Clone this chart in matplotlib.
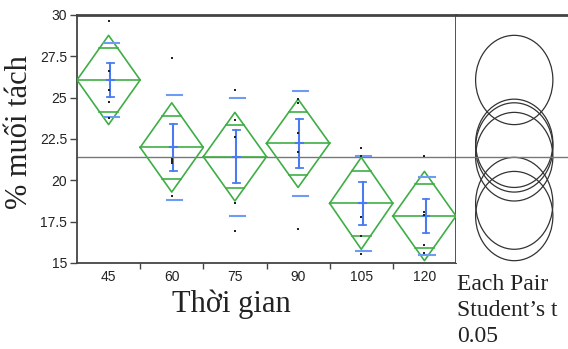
import numpy as np
import matplotlib
matplotlib.use("Agg")
import matplotlib.pyplot as plt
from matplotlib.patches import Ellipse

# ==== Data ====
groups = ['45', '60', '75', '90', '105', '120']
means = [26.07, 21.99, 21.43, 22.24, 18.61, 17.84]
ci_half = [2.70, 2.70, 2.68, 2.67, 2.78, 2.70]     # means diamond half height (95% CI)
std_dev = [2.25, 3.19, 3.57, 3.18, 2.86, 2.34]     # std dev lines
std_err = [1.01, 1.43, 1.59, 1.47, 1.29, 1.01]     # error bars
points = [
    [29.66, 26.60, 25.46, 24.74, 23.79],
    [27.42, 21.31, 21.14, 21.03, 19.05],
    [25.46, 23.65, 22.64, 18.65, 16.95],
    [24.94, 24.70, 22.88, 21.71, 17.04],
    [21.97, 21.45, 17.80, 16.63, 15.54],
    [21.47, 18.10, 17.90, 16.11, 15.62],
]
grand_mean = 21.4
y_ticks = [15, 17.5, 20, 22.5, 25, 27.5, 30]
y_tick_labels = ['15', '17.5', '20', '22.5', '25', '27.5', '30']

# ==== Styles ====
green = '#3fae46'
blue_sd = '#6f9bf5'
blue_err = '#4a7cf0'
frame = '#444444'
W, H = 568, 349

fig = plt.figure(figsize=(W / 100, H / 100), dpi=100)
bottom = (H - 263) / H
height = (263 - 15) / H
ax = fig.add_axes([77 / W, bottom, (456 - 77) / W, height])
ax2 = fig.add_axes([456 / W, bottom, (W - 456) / W, height], sharey=ax)

# ==== Main panel: means diamonds ====
for i, (m, c, sd, se, pts) in enumerate(zip(means, ci_half, std_dev, std_err, points)):
    ax.plot([i - 0.5, i, i + 0.5, i, i - 0.5], [m, m + c, m, m - c, m],
            color=green, lw=1.2, zorder=3)
    ax.plot([i - 0.5, i + 0.5], [m, m], color=green, lw=1.2, zorder=3)
    ov = c / np.sqrt(2)
    hw = 0.5 * (1 - ov / c)
    for s in (1, -1):
        ax.plot([i - hw, i + hw], [m + s * ov] * 2, color=green, lw=1.2, zorder=3)
        ax.plot([i - 0.08, i + 0.16], [m + s * sd] * 2, color=blue_sd, lw=1.5, zorder=4)
        ax.plot([i - 0.03, i + 0.08], [m + s * se] * 2, color=blue_err, lw=1.3, zorder=4)
    ax.plot([i + 0.02, i + 0.02], [m - se, m + se], color=blue_err, lw=1.5, zorder=4)
    ax.plot([i - 0.03, i + 0.08], [m, m], color=blue_err, lw=1.5, zorder=4)
    ax.scatter([i] * len(pts), pts, s=4.5, marker='s', color='#222222', lw=0, zorder=5)

ax.axhline(grand_mean, color='#777777', lw=1, zorder=1)
ax.set_xlim(-0.5, len(groups) - 0.5)
ax.set_ylim(15, 30)
ax.set_xticks(range(len(groups)))
ax.set_xticklabels(groups)
ax.set_xticks(np.arange(0.5, len(groups) - 1, 1), minor=True)
ax.set_yticks(y_ticks)
ax.set_yticklabels(y_tick_labels)
ax.tick_params(axis='x', which='major', length=0, pad=5, labelsize=10, labelcolor='#222222')
ax.tick_params(axis='x', which='minor', length=4, width=1, color=frame, direction='out')
ax.tick_params(axis='y', length=5, width=1, color=frame, pad=2, labelsize=10, labelcolor='#222222')
for lab in ax.get_xticklabels() + ax.get_yticklabels():
    lab.set_fontfamily('Liberation Sans')
for name, sp in ax.spines.items():
    sp.set_color(frame)
    sp.set_linewidth(2 if name == 'top' else 1.3)

# ==== Comparison circles panel ====
ax2.set_xlim(0, 1)
for m, c in zip(means, ci_half):
    ax2.add_patch(Ellipse((0.52, m), width=0.69, height=2 * c, fill=False,
                          ec='#333333', lw=0.9))
ax2.axhline(grand_mean, color='#777777', lw=1)
ax2.tick_params(left=False, bottom=False, labelleft=False, labelbottom=False)
for name, sp in ax2.spines.items():
    sp.set_visible(name == 'top')
ax2.spines['top'].set_color(frame)
ax2.spines['top'].set_linewidth(2)

# ==== Labels ====
serif = 'Liberation Serif'
fig.text(20 / W, 1 - 132 / H, '% muối tách', rotation=90, ha='center', va='center',
         fontsize=22, family=serif, color='#222222')
fig.text(231 / W, 1 - 312 / H, 'Thời gian', ha='center', va='baseline',
         fontsize=22, family=serif, color='#222222')
for k, line in enumerate(['Each Pair', 'Student’s t', '0.05']):
    fig.text(457 / W, 1 - (290 + 26 * k) / H, line, ha='left', va='baseline',
             fontsize=17, family=serif, color='#222222')

fig.savefig('out.png', dpi=100)
